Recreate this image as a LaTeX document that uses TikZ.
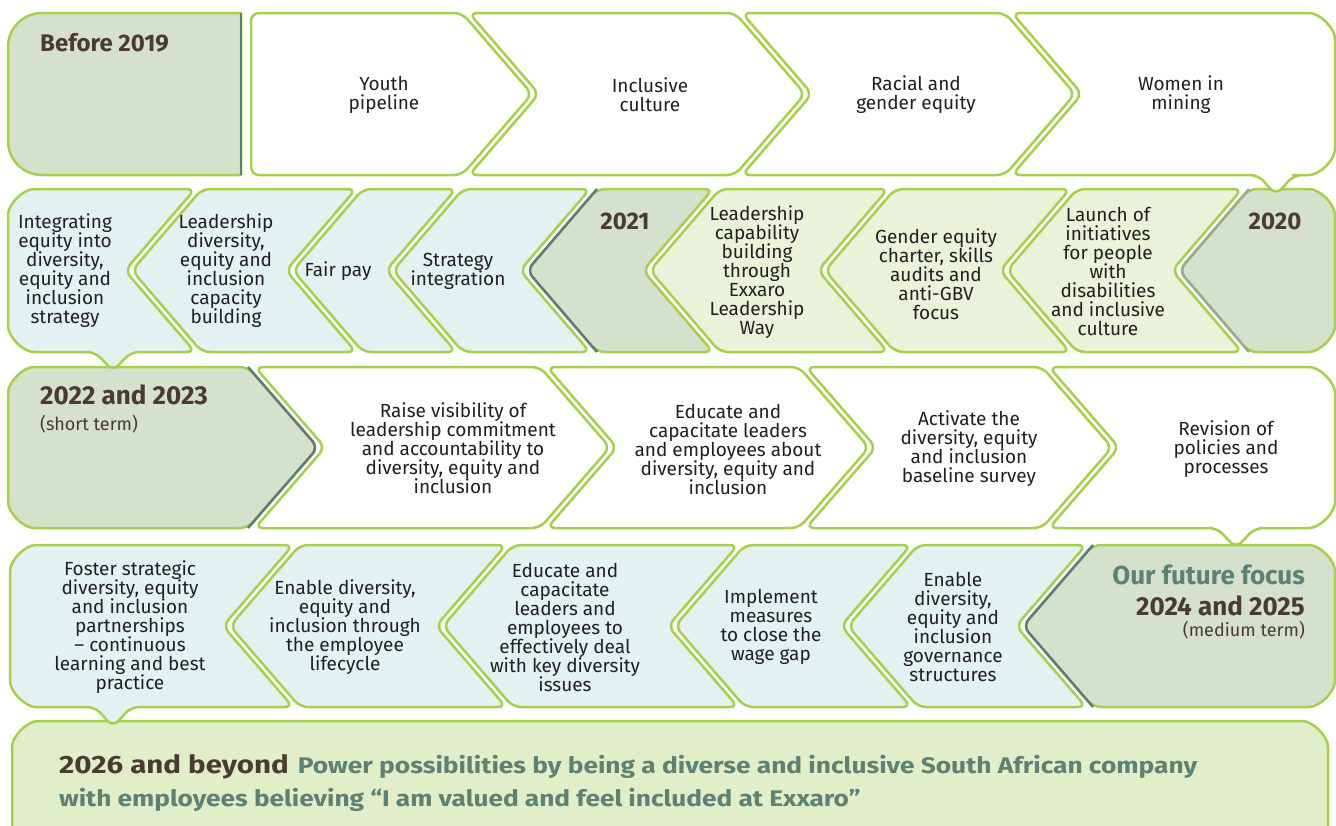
\documentclass[tikz,border=0pt]{standalone}
\usepackage{fontspec}
\usepackage{graphicx}
\setmainfont{Fira Sans}
\definecolor{lime}{HTML}{A5CF4C}
\definecolor{darkfill}{HTML}{D5E0CD}
\definecolor{slateline}{HTML}{5E7C78}
\definecolor{fadeline}{HTML}{93AE8C}
\definecolor{lightblue}{HTML}{E3F1F0}
\definecolor{lightgreen}{HTML}{EAF2D9}
\definecolor{bannerfill}{HTML}{E2EDC9}
\definecolor{brownhead}{HTML}{4B3A34}
\definecolor{slatetext}{HTML}{5E8176}
\definecolor{bodytext}{HTML}{231F20}
\tikzset{
  box/.style={draw=lime, line width=2.5pt, rounded corners=8pt, line join=round},
  whitebox/.style={box, fill=white},
  bluebox/.style={box, fill=lightblue},
  greenbox/.style={box, fill=lightgreen},
  darkbox/.style={box, fill=darkfill},
  tipline/.style={draw=slateline, line width=2.5pt, rounded corners=8pt, line join=round},
  txt/.style={align=center, inner sep=0pt, text=bodytext, font=\fontsize{19}{19}\selectfont},
  head/.style={inner sep=0pt, text=brownhead, font=\fontsize{24}{26}\selectfont\bfseries},
  bighead/.style={inner sep=0pt, text=brownhead, font=\fontsize{26}{28}\selectfont\bfseries},
  subhead/.style={inner sep=0pt, text=brownhead, font=\fontsize{18}{20}\selectfont},
}
\begin{document}
\begin{tikzpicture}[x=1pt, y=-1pt]
\useasboundingbox (0,0) rectangle (1336,825);
\clip (0,0) rectangle (1336,825);

% ---------- Row 5: banner ----------
\path[box, fill=bannerfill] (12,870) -- (12,755) .. controls (12,736.2) and (27.2,721) .. (46,721)
  -- (1294,721) .. controls (1312.8,721) and (1328,736.2) .. (1328,755) -- (1328,870);

% ---------- Row 4 ----------
\path[bluebox] (293,545) -- (44,545) .. controls (25.2,545) and (10,560.2) .. (10,579)
  -- (10,673) .. controls (10,691.8) and (25.2,707) .. (44,707)
  -- (95,707) -- (113,727) -- (131,707) -- (293,707) -- (223,626) -- cycle;
\path[bluebox] (300,545) -- (506,545) -- (436,626) -- (506,707) -- (300,707) -- (230,626) -- cycle;
\path[bluebox] (513,545) -- (738,545) -- (668,626) -- (738,707) -- (513,707) -- (443,626) -- cycle;
\path[bluebox] (745,545) -- (911,545) -- (841,626) -- (911,707) -- (745,707) -- (675,626) -- cycle;
\path[bluebox] (918,545) -- (1086,545) -- (1016,626) -- (1086,707) -- (918,707) -- (848,626) -- cycle;
\path[darkbox] (1093,545) -- (1301,545) .. controls (1319.8,545) and (1335,560.2) .. (1335,579)
  -- (1335,673) .. controls (1335,691.8) and (1319.8,707) .. (1301,707) -- (1093,707) -- (1023,626) -- cycle;
\path[tipline] (1093,545) -- (1023,626) -- (1093,707);

% ---------- Row 3 ----------
\path[darkbox] (248,367) -- (42,367) .. controls (23.2,367) and (8,382.2) .. (8,401)
  -- (8,494) .. controls (8,512.8) and (23.2,528) .. (42,528) -- (248,528) -- (318,447.5) -- cycle;
\path[tipline] (248,367) -- (318,447.5) -- (248,528);
\path[whitebox] (255,367) -- (540,367) -- (610,447.5) -- (540,528) -- (255,528) -- (325,447.5) -- cycle;
\path[whitebox] (547,367) -- (799,367) -- (869,447.5) -- (799,528) -- (547,528) -- (617,447.5) -- cycle;
\path[whitebox] (806,367) -- (1042,367) -- (1112,447.5) -- (1042,528) -- (806,528) -- (876,447.5) -- cycle;
\path[whitebox] (1049,367) -- (1301,367) .. controls (1319.8,367) and (1335,382.2) .. (1335,401)
  -- (1335,494) .. controls (1335,512.8) and (1319.8,528) .. (1301,528)
  -- (1255,528) -- (1236,548) -- (1217,528) -- (1049,528) -- (1119,447.5) -- cycle;

% ---------- Row 2 ----------
\path[bluebox] (195,189) -- (42,189) .. controls (23.2,189) and (8,204.2) .. (8,223)
  -- (8,318) .. controls (8,336.8) and (23.2,352) .. (42,352)
  -- (95,352) -- (113,371) -- (131,352) -- (195,352) -- (125,270.5) -- cycle;
\path[bluebox] (202,189) -- (356,189) -- (286,270.5) -- (356,352) -- (202,352) -- (132,270.5) -- cycle;
\path[bluebox] (363,189) -- (456,189) -- (386,270.5) -- (456,352) -- (363,352) -- (293,270.5) -- cycle;
\path[bluebox] (463,189) -- (590,189) -- (520,270.5) -- (590,352) -- (463,352) -- (393,270.5) -- cycle;
\path[darkbox] (597,189) -- (713,189) -- (643,270.5) -- (713,352) -- (597,352) -- (527,270.5) -- cycle;
\path[tipline] (597,189) -- (527,270.5) -- (597,352);
\path[greenbox] (720,189) -- (888,189) -- (818,270.5) -- (888,352) -- (720,352) -- (650,270.5) -- cycle;
\path[greenbox] (895,189) -- (1070,189) -- (1000,270.5) -- (1070,352) -- (895,352) -- (825,270.5) -- cycle;
\path[greenbox] (1077,189) -- (1242,189) -- (1172,270.5) -- (1242,352) -- (1077,352) -- (1007,270.5) -- cycle;
\path[darkbox] (1249,189) -- (1301,189) .. controls (1319.8,189) and (1335,204.2) .. (1335,223)
  -- (1335,318) .. controls (1335,336.8) and (1319.8,352) .. (1301,352) -- (1249,352) -- (1179,270.5) -- cycle;
\path[tipline, draw=fadeline] (1249,189) -- (1179,270.5) -- (1249,352);

% ---------- Row 1 ----------
\path[darkbox, sharp corners] (241,175) -- (241,13) -- (42,13) .. controls (23.2,13) and (8,28.2) .. (8,47)
  -- (8,141) .. controls (8,159.8) and (23.2,175) .. (42,175) -- cycle;
\path[tipline, sharp corners] (241,13) -- (241,175);
\path[whitebox] (251,94) -- (251,13) -- (462,13) -- (532,94) -- (462,175) -- (251,175) -- cycle;
\path[whitebox] (469,13) -- (735,13) -- (805,94) -- (735,175) -- (469,175) -- (539,94) -- cycle;
\path[whitebox] (742,13) -- (1005,13) -- (1075,94) -- (1005,175) -- (742,175) -- (812,94) -- cycle;
\path[whitebox] (1012,13) -- (1301,13) .. controls (1319.8,13) and (1335,28.2) .. (1335,47)
  -- (1335,141) .. controls (1335,159.8) and (1319.8,175) .. (1301,175)
  -- (1294,175) -- (1276,195) -- (1258,175) -- (1012,175) -- (1082,94) -- cycle;

% ---------- Texts ----------
\node[head, anchor=west] (before) at (40,43) {Before 2019};
\node[txt] (youth) at (384,95) {Youth\\pipeline};
\node[txt] (inclusive) at (650,95) {Inclusive\\culture};
\node[txt] (racial) at (916,95) {Racial and\\gender equity};
\node[txt] (women) at (1181,95) {Women in\\mining};

\node[txt] (integrating) at (65,271) {Integrating\\equity into\\diversity,\\equity and\\inclusion\\strategy};
\node[txt] (leaddiv) at (226,271) {Leadership\\diversity,\\equity and\\inclusion\\capacity\\building};
\node[txt] (fairpay) at (338,271) {Fair pay};
\node[txt] (strategy) at (458,271) {Strategy\\integration};
\node[head] (y2021) at (625,221) {2021};
\node[txt] (leadcap) at (757,272) {Leadership\\capability\\building\\through\\Exxaro\\Leadership\\Way};
\node[txt] (gender) at (936,274) {Gender equity\\charter, skills\\audits and\\anti-GBV\\focus};
\node[txt] (launch) at (1108,271) {Launch of\\initiatives\\for people\\with\\disabilities\\and inclusive\\culture};
\node[head] (y2020) at (1275,221) {2020};

\node[bighead, anchor=west] (y2223) at (40,395) {2022 and 2023};
\node[subhead, anchor=west] (shortterm) at (40,424) {(short term)};
\node[txt] (raise) at (453,448) {Raise visibility of\\leadership commitment\\and accountability to\\diversity, equity and\\inclusion};
\node[txt] (educatea) at (728,449) {Educate and\\capacitate leaders\\and employees about\\diversity, equity and\\inclusion};
\node[txt] (activate) at (969,449) {Activate the\\diversity, equity\\and inclusion\\baseline survey};
\node[txt] (revision) at (1226,449) {Revision of\\policies and\\processes};

\node[txt] (foster) at (130,627) {Foster strategic\\diversity, equity\\and inclusion\\partnerships\\– continuous\\learning and best\\practice};
\node[txt] (enablea) at (345,627) {Enable diversity,\\equity and\\inclusion through\\the employee\\lifecycle};
\node[txt] (educateb) at (565,627) {Educate and\\capacitate\\leaders and\\employees to\\effectively deal\\with key diversity\\issues};
\node[txt] (implement) at (771,627) {Implement\\measures\\to close the\\wage gap};
\node[txt] (enableb) at (953,627) {Enable\\diversity,\\equity and\\inclusion\\governance\\structures};
\node[bighead, text=slatetext, anchor=east] (future) at (1305,575) {Our future focus};
\node[bighead, anchor=east] (y2425) at (1305,606) {2024 and 2025};
\node[subhead, anchor=east] (mediumterm) at (1305,630) {(medium term)};

\node[inner sep=0pt, anchor=base west] (bannera) at (59,773)
  {\textcolor{brownhead}{\scalebox{1.18}[1]{\fontsize{25}{30}\selectfont\bfseries 2026 and beyond}}\hspace{9pt}\textcolor{slatetext}{\scalebox{1.17}[1]{\fontsize{22.5}{28}\selectfont\bfseries Power possibilities by being a diverse and inclusive South African company}}};
\node[inner sep=0pt, anchor=base west, text=slatetext] (bannerb) at (59,806)
  {\scalebox{1.166}[1]{\fontsize{22.5}{28}\selectfont\bfseries with employees believing “I am valued and feel included at Exxaro”}};
\end{tikzpicture}
\end{document}
